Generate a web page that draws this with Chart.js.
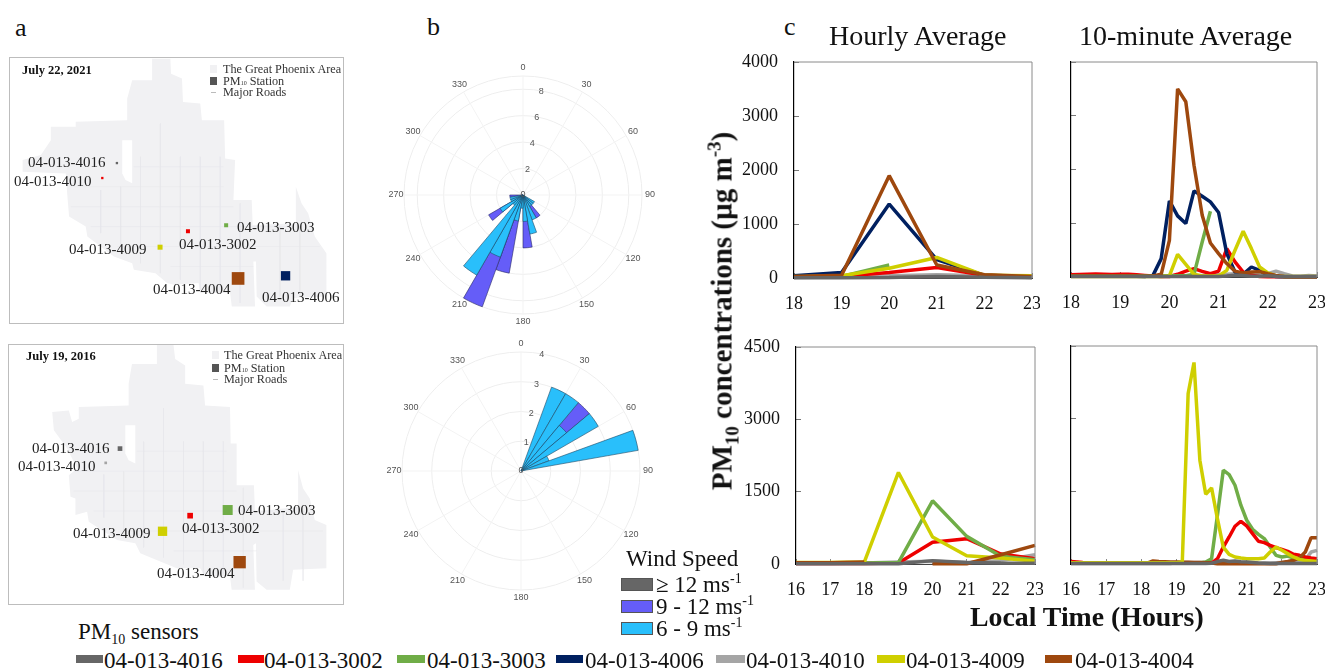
<!DOCTYPE html>
<html>
<head>
<meta charset="utf-8">
<title>PM10 dust events</title>
<script src="https://cdn.jsdelivr.net/npm/chart.js@4"></script>
<style>
html, body { margin: 0; background: #fff; overflow: hidden; }
#page { position: relative; width: 1325px; height: 669px; font-family: "Liberation Serif", serif; color: #111; }
#page canvas { position: absolute; }
.t { position: absolute; white-space: nowrap; transform: translateY(-50%); line-height: 1; }
.b { position: absolute; }
sub, sup { line-height: 0; }
</style>
</head>
<body>
<div id="page"></div>
<script>
// sensors
const sensorNames = ['04-013-4016', '04-013-3002', '04-013-3003', '04-013-4006', '04-013-4010', '04-013-4009', '04-013-4004']
const sensorColors = ['#666666', '#ee0000', '#70ad47', '#002060', '#a5a5a5', '#cfcf00', '#9e480e']

// c: hourly, July 22 2021
const hours2021 = [18, 19, 20, 21, 22, 23]
const h21_4016 = [5, 5, 10, 30, 15, 5]
const h21_4004 = [30, 50, 1895, 240, 60, 30]
const h21_4009 = [20, 40, 180, 380, 50, 40]
const h21_3003 = [30, 30, 240, null, null, null]
const h21_4006 = [40, 100, 1370, 340, 50, 30]
const h21_3002 = [20, 30, 100, 195, 50, 20]
const h21_4010 = [10, 20, 40, 60, 40, 10]

// c: 10-minute, July 22 2021 (18:00 - 23:00)
const m21_4016 = [8, 8, 8, 8, 8, 8, 8, 8, 8, 8, 8, 8, 8, 8, 8, 8, 8, 8, 8, 20, 35, 30, 15, 15, 25, 15, 8, 8, 8, 8, 8]
const m21_4004 = [20, 20, 20, 20, 20, 20, 20, 20, 20, 20, 20, 50, 683, 3500, 3260, 2080, 1150, 633, 435, 250, 110, 75, 93, 100, 62, 30, 10, 5, 5, 5, 5]
const m21_4009 = [10, 10, 10, 10, 10, 10, 10, 10, 10, 10, 10, 10, 20, 422, 236, 50, 20, 20, 20, 124, 497, 851, 528, 186, 75, 20, 10, 10, 10, 10, 10]
const m21_3003 = [25, 25, 25, 25, 25, 25, 25, 25, 25, 25, 25, 25, 25, 25, 25, 50, 652, 1224, null, null, null, null, null, null, null, null, null, null, null, null, null]
const m21_4006 = [15, 15, 15, 15, 15, 15, 15, 15, 15, 10, 30, 342, 1416, 1137, 994, 1602, 1503, 1397, 1199, 435, 93, 50, 186, 124, 31, 10, 5, 5, 5, 5, 5]
const m21_3002 = [40, 45, 50, 55, 50, 45, 50, 50, 40, 30, 20, 10, 10, 50, 110, 155, 105, 62, 110, 528, 280, 93, 31, 10, 5, 5, 5, 5, 5, 5, 5]
const m21_4010 = [15, 15, 15, 15, 15, 15, 15, 15, 15, 15, 15, 15, 15, 15, 15, 20, 30, 40, 40, 50, 60, 50, 40, 50, 60, 110, 60, 20, 15, 30, 20]

// c: hourly, July 19 2016
const hours2016 = [16, 17, 18, 19, 20, 21, 22, 23]
const h16_4016 = [5, 5, 5, 5, 70, 30, 20, 15]
const h16_4004 = [25, 25, 40, null, 5, 5, 193, 386]
const h16_4009 = [30, 30, 40, 1898, 559, 172, 124, 55]
const h16_3003 = [15, 15, 20, 30, 1311, 573, 159, 90]
const h16_3002 = [10, 10, 10, 20, 449, 525, 207, 110]
const h16_4010 = [10, 10, 20, 40, 55, 30, 70, 193]

// c: 10-minute, July 19 2016 (16:00 - 23:00)
const m16_4016 = [10, 10, 10, 10, 10, 10, 10, 10, 10, 10, 10, 10, 10, 10, 10, 10, 10, 10, 10, 10, 10, 10, 10, 10, 15, 50, 76, 50, 60, 45, 40, 30, 20, 15, 10, 10, 10, 10, 10, 10, 10, 10, 10]
const m16_4004 = [20, 20, 20, 20, 20, 20, 20, 20, 20, 20, 20, 20, 20, 20, 62, 50, 45, 40, 40, 35, 35, 30, 30, 25, 20, 5, 5, 5, 5, 5, 5, 5, 5, 5, 5, 5, 30, 50, 76, 124, 248, 544, 544]
const m16_4009 = [25, 25, 25, 25, 25, 25, 25, 25, 25, 25, 25, 25, 25, 25, 25, 25, 25, 25, 25, 40, 3520, 4160, 2143, 1440, 1570, 937, 350, 200, 145, 124, 110, 110, 110, 124, 248, 350, 282, 214, 145, 96, 70, 60, 50]
const m16_3003 = [20, 20, 20, 20, 20, 20, 20, 20, 20, 20, 20, 20, 20, 20, 20, 20, 20, 20, 20, 20, 20, 20, 20, 40, 110, 1006, 1936, 1846, 1626, 1213, 903, 716, 613, 524, 351, 179, 145, 165, 124, 110, 96, 76, 62]
const m16_3002 = [50, 40, 30, 25, 20, 20, 20, 20, 20, 20, 20, 20, 20, 20, 20, 20, 20, 20, 20, 20, 20, 20, 20, 20, 20, 110, 350, 558, 779, 882, 785, 627, 469, 441, 386, 338, 303, 262, 200, 179, 145, 124, 110]
const m16_4010 = [10, 10, 10, 10, 10, 10, 10, 10, 10, 10, 10, 10, 10, 10, 10, 10, 10, 10, 30, 30, 30, 30, 30, 30, 30, 35, 40, 35, 30, 30, 25, 20, 20, 20, 20, 25, 30, 35, 40, 50, 80, 248, 282]

// b: wind rose, counts per 10 degree bin, value is the top of each band
const roseAngles = [0, 10, 20, 30, 40, 50, 60, 70, 80, 90, 100, 110, 120, 130, 140, 150, 160, 170, 180, 190, 200, 210, 220, 230, 240, 250, 260, 270, 280, 290, 300, 310, 320, 330, 340, 350]
const rose21_6to9 = [0, 0, 0, 0, 0, 0, 0, 0, 0, 0, 0, 0, 1, 1, 1, 2, 3, 2, 1, 2, 5, 7, 1, 2, 1, 1, 0, 0, 0, 0, 0, 0, 0, 0, 0, 0]
const rose21_9to12 = [0, 0, 0, 0, 0, 0, 0, 0, 0, 0, 0, 0, 0, 0, 2, 0, 0, 4, 0, 6, 9, 0, 0, 3, 0, 0, 1, 0, 0, 0, 0, 0, 0, 0, 0, 0]
const rose16_6to9 = [0, 0, 3, 3, 2, 3, 1, 4, 0, 0, 0, 0, 0, 0, 0, 0, 0, 0, 0, 0, 0, 0, 0, 0, 0, 0, 0, 0, 0, 0, 0, 0, 0, 0, 0, 0]
const rose16_9to12 = [0, 0, 0, 0, 3, 0, 0, 0, 0, 0, 0, 0, 0, 0, 0, 0, 0, 0, 0, 0, 0, 0, 0, 0, 0, 0, 0, 0, 0, 0, 0, 0, 0, 0, 0, 0]

// a: map outlines and stations, in map units
const outline2021 = [[455, 55], [510, 55], [512, 100], [545, 115], [548, 185], [600, 190], [605, 240], [672, 240], [675, 355], [705, 360], [700, 480], [755, 480], [758, 555], [888, 550], [888, 440], [905, 490], [925, 520], [945, 590], [980, 640], [980, 770], [880, 775], [870, 800], [800, 800], [770, 770], [768, 665], [760, 665], [765, 800], [695, 800], [690, 760], [600, 760], [595, 730], [520, 735], [500, 730], [465, 700], [400, 690], [395, 670], [340, 650], [260, 590], [255, 560], [205, 530], [200, 470], [195, 400], [65, 395], [65, 360], [120, 345], [150, 300], [150, 260], [225, 260], [225, 245], [380, 240], [380, 175], [395, 120], [455, 120], [455, 55]]
const hole2021 = [[365, 300], [395, 300], [395, 430], [375, 420], [365, 400], [365, 300]]
const outline2016 = [[470, 28], [520, 28], [525, 70], [555, 90], [555, 145], [610, 150], [615, 210], [690, 215], [692, 325], [710, 325], [710, 450], [762, 450], [765, 530], [895, 515], [895, 405], [910, 460], [930, 490], [945, 555], [980, 570], [980, 700], [880, 705], [870, 765], [800, 765], [770, 740], [768, 625], [760, 630], [765, 765], [695, 765], [690, 725], [615, 725], [600, 700], [530, 700], [480, 680], [420, 655], [405, 625], [350, 615], [265, 560], [260, 530], [225, 540], [225, 490], [210, 485], [205, 420], [230, 400], [200, 340], [160, 285], [155, 230], [205, 225], [215, 260], [235, 250], [235, 215], [385, 210], [385, 145], [395, 85], [470, 85], [470, 28]]
const hole2016 = [[375, 270], [405, 270], [405, 385], [385, 375], [375, 355], [375, 270]]
const roadRows = [[380, 400, 670], [440, 210, 670], [500, 210, 700], [560, 270, 880], [620, 350, 960], [680, 510, 760]]
const roadCols = [[300, 450, 580], [360, 440, 640], [420, 350, 670], [480, 250, 700], [540, 350, 720], [600, 350, 750], [660, 350, 750], [720, 490, 790], [840, 560, 770], [900, 560, 770]]

const stations2021X = [349, 563, 678, 857, 305, 479, 714]
const stations2021Y = [369, 574, 556, 708, 414, 622, 716]
const stations2021Size = [7, 12, 12, 28, 7, 15, 38]
const stations2021Color = ['#666666', '#ee0000', '#70ad47', '#002060', '#ee0000', '#cfcf00', '#9e480e']
const stations2016X = [359, 570, 683, null, 316, 487, 719]
const stations2016Y = [340, 542, 525, null, 383, 589, 682]
const stations2016Size = [14, 17, 30, 0, 8, 28, 37]

const page = document.getElementById('page')

function text(html, x, y, css) {
    const el = document.createElement('div')
    el.className = 't'
    el.innerHTML = html
    el.style.cssText = 'left:' + x + 'px;top:' + y + 'px;' + (css || '')
    page.appendChild(el)
    return el
}

function box(x, y, w, h, css) {
    const el = document.createElement('div')
    el.className = 'b'
    el.style.cssText = 'left:' + x + 'px;top:' + y + 'px;width:' + w + 'px;height:' + h + 'px;' + (css || '')
    page.appendChild(el)
}

function canvas(x, y, w, h) {
    const c = document.createElement('canvas')
    c.width = w
    c.height = h
    c.style.cssText = 'left:' + x + 'px;top:' + y + 'px;width:' + w + 'px;height:' + h + 'px;'
    page.appendChild(c)
    return c
}

// ---- a: maps
function roads(dx, dy) {
    const pts = []
    roadRows.forEach(r => pts.push({x: r[1] + dx, y: r[0] + dy}, {x: r[2] + dx, y: r[0] + dy}, {x: NaN, y: NaN}))
    roadCols.forEach(c => pts.push({x: c[0] + dx, y: c[1] + dy}, {x: c[0] + dx, y: c[2] + dy}, {x: NaN, y: NaN}))
    return pts
}

const toXY = list => list.map(p => ({x: p[0], y: p[1]}))

// fills the datasets flagged polygon from their points, below everything else
const polygonFill = {
    id: 'polygonFill',
    beforeDatasetsDraw(chart) {
        const ctx = chart.ctx
        chart.data.datasets.forEach((ds, i) => {
            if (!ds.polygon) return
            ctx.save()
            ctx.fillStyle = ds.polygon
            ctx.beginPath()
            chart.getDatasetMeta(i).data.forEach((p, k) => (k ? ctx.lineTo(p.x, p.y) : ctx.moveTo(p.x, p.y)))
            ctx.closePath()
            ctx.fill()
            ctx.restore()
        })
    },
}

function mapChart(left, top, w, h, range, outline, hole, stX, stY, stSize, stColor, dx, dy) {
    box(left - 1, top - 1, w, h, 'border:1px solid #bdbdbd;')
    new Chart(canvas(left, top, w, h), {
        type: 'scatter',
        data: {
            datasets: [
                {
                    data: stX.map((x, i) => ({x: x, y: stY[i]})),
                    pointStyle: 'rect',
                    pointRadius: stSize.map(s => s / 3 / Math.SQRT2),
                    pointBackgroundColor: stColor,
                    pointBorderWidth: 0,
                },
                {data: roads(dx, dy), showLine: true, pointRadius: 0, borderWidth: 0.5, borderColor: '#e6e6ea'},
                {data: toXY(outline), pointRadius: 0, polygon: '#f1f1f3'},
                {data: toXY(hole), pointRadius: 0, polygon: '#ffffff'},
            ],
        },
        options: {
            responsive: false,
            animation: false,
            layout: {autoPadding: false},
            plugins: {legend: {display: false}, tooltip: {enabled: false}},
            scales: {
                x: {display: false, min: range[0], max: range[1]},
                y: {display: false, min: range[2], max: range[3], reverse: true},
            },
        },
        plugins: [polygonFill],
    })
}

mapChart(10, 58, 333, 265, [27, 1030, 53, 850], outline2021, hole2021,
    stations2021X, stations2021Y, stations2021Size, stations2021Color, 0, 0)
mapChart(9, 345, 334, 259, [25, 1030, 28, 808], outline2016, hole2016,
    stations2016X, stations2016Y, stations2016Size, ['#666666', '#ee0000', '#70ad47', '#002060', '#a5a5a5', '#cfcf00', '#9e480e'], 10, -32)

text('<b>July 22, 2021</b>', 22, 70, 'font-size:12.5px;')
text('<b>July 19, 2016</b>', 26, 356, 'font-size:12.5px;')

function mapLegend(sx, tx, y1, y2, y3) {
    box(sx, y1 - 4, 7, 8, 'background:#f1f1f3;')
    box(sx, y2 - 4, 7, 8, 'background:#555;')
    box(sx + 1, y3, 5, 1, 'background:#bbb;')
    text('The Great Phoenix Area', tx, y1, 'font-size:12.2px;color:#333;')
    text('PM<span style="font-size:6px;">10</span> Station', tx, y2, 'font-size:12.2px;color:#333;')
    text('Major Roads', tx, y3, 'font-size:12.2px;color:#333;')
}
mapLegend(210, 223, 69, 81, 92)
mapLegend(212, 224, 355, 367.5, 379)

const labels2021 = [[0, 28, 162], [4, 14, 181], [2, 237, 227], [1, 179, 244], [5, 69, 249], [6, 153, 289], [3, 262, 297]]
const labels2016 = [[0, 32, 448], [4, 18, 466], [2, 238, 510], [1, 182, 528], [5, 73, 533], [6, 157, 573]]
labels2021.concat(labels2016).forEach(l => text(sensorNames[l[0]], l[1], l[2], 'font-size:15px;color:#222;'))

// ---- b: wind roses
const roseLabels = {
    id: 'roseLabels',
    afterDraw(chart, args, opts) {
        const r = chart.scales.r
        const ctx = chart.ctx
        ctx.save()
        ctx.font = opts.size + 'px "Liberation Sans"'
        ctx.fillStyle = '#555'
        ctx.textAlign = 'center'
        ctx.textBaseline = 'middle'
        roseAngles.forEach((a, i) => {
            if (a % 30 !== 0) return
            const p = r.getPointPosition(i, r.drawingArea + 8)
            ctx.fillText(String(a), p.x, p.y)
        })
        r.ticks.forEach(t => {
            if (t.value % opts.step !== 0 || t.value === 0) return
            const p = r.getPointPosition(1, r.getDistanceFromCenterForValue(t.value))
            ctx.fillText(String(t.value), p.x, p.y + 1)
        })
        ctx.fillText('0', r.xCenter, r.yCenter)
        ctx.restore()
    },
}

function roseChart(cx, cy, top6to9, top9to12, max, step) {
    const size = 300
    new Chart(canvas(cx - size / 2, cy - size / 2, size, size), {
        type: 'polarArea',
        data: {
            labels: roseAngles,
            datasets: [
                {label: '6 - 9 ms-1', data: top6to9, backgroundColor: '#29bffb', borderColor: '#1c4a66', borderWidth: 0.6},
                {label: '9 - 12 ms-1', data: top9to12, backgroundColor: '#655df8', borderColor: '#2a2a66', borderWidth: 0.6},
            ],
        },
        options: {
            responsive: false,
            animation: false,
            layout: {padding: 31},
            plugins: {legend: {display: false}, tooltip: {enabled: false}, roseLabels: {size: 9, step: step}},
            scales: {
                r: {
                    min: 0,
                    max: max,
                    ticks: {display: false, stepSize: step},
                    pointLabels: {display: false},
                    grid: {circular: true, color: '#eeeeee', lineWidth: 1},
                    angleLines: {
                        display: true,
                        lineWidth: 1,
                        color: c => (c.index % 3 === 0 ? '#f3f3f3' : 'rgba(0,0,0,0)'),
                    },
                },
            },
        },
        plugins: [roseLabels],
    })
}

roseChart(523, 195, rose21_6to9, rose21_9to12, 9, 2)
roseChart(521, 471, rose16_6to9, rose16_9to12, 4, 1)

// ---- c: time series
const panelFrame = {
    id: 'panelFrame',
    afterDraw(chart) {
        const a = chart.chartArea
        const ctx = chart.ctx
        ctx.save()
        ctx.strokeStyle = '#8a8a8a'
        ctx.lineWidth = 1
        ctx.beginPath()
        ctx.moveTo(a.left, a.top)
        ctx.lineTo(a.right, a.top)
        ctx.lineTo(a.right, a.bottom)
        ctx.stroke()
        ctx.restore()
    },
}

function linePanel(left, right, top, bottom, xMin, xMax, yMax, yStep, yLabels, series) {
    const marginL = 70, marginR = 8, marginT = 12, marginB = 40
    new Chart(canvas(left - marginL, top - marginT, right - left + marginL + marginR, bottom - top + marginT + marginB), {
        type: 'line',
        data: {
            datasets: series.map(s => ({
                label: sensorNames[s.i],
                data: s.x.map((x, k) => ({x: x, y: s.y[k]})),
                borderColor: sensorColors[s.i],
                borderWidth: 3.5,
                borderJoinStyle: 'bevel',
                pointRadius: 0,
                tension: 0,
                clip: false,
            })),
        },
        options: {
            responsive: false,
            animation: false,
            layout: {autoPadding: false, padding: {top: marginT, right: marginR, left: 0, bottom: 0}},
            plugins: {legend: {display: false}, tooltip: {enabled: false}},
            scales: {
                x: {
                    type: 'linear',
                    min: xMin,
                    max: xMax,
                    afterFit: s => { s.height = marginB; s.paddingLeft = 0; s.paddingRight = 0 },
                    border: {color: '#444', width: 1},
                    grid: {display: true, drawOnChartArea: false, tickLength: -5, tickColor: '#888'},
                    ticks: {stepSize: 1, padding: 20, maxRotation: 0, autoSkip: false, color: '#111', font: {family: '"Liberation Serif"', size: 18}},
                },
                y: {
                    min: 0,
                    max: yMax,
                    afterFit: s => { s.width = marginL; s.paddingTop = 0; s.paddingBottom = 0 },
                    border: {color: '#000', width: 1.2},
                    grid: {display: true, drawOnChartArea: false, tickLength: -5, tickColor: '#777'},
                    ticks: {stepSize: yStep, padding: 21, display: yLabels, callback: v => String(v), color: '#111', font: {family: '"Liberation Serif"', size: 18}},
                },
            },
        },
        plugins: [panelFrame],
    })
}

const tenMin21 = m21_4016.map((v, i) => 18 + i / 6)
const tenMin16 = m16_4016.map((v, i) => 16 + i / 6)

linePanel(794, 1032, 62, 278, 18, 23, 4000, 1000, true, [
    {i: 0, x: hours2021, y: h21_4016},
    {i: 6, x: hours2021, y: h21_4004},
    {i: 5, x: hours2021, y: h21_4009},
    {i: 2, x: hours2021, y: h21_3003},
    {i: 3, x: hours2021, y: h21_4006},
    {i: 1, x: hours2021, y: h21_3002},
    {i: 4, x: hours2021, y: h21_4010},
])
linePanel(1071, 1317, 62, 277, 18, 23, 4000, 1000, false, [
    {i: 0, x: tenMin21, y: m21_4016},
    {i: 6, x: tenMin21, y: m21_4004},
    {i: 5, x: tenMin21, y: m21_4009},
    {i: 2, x: tenMin21, y: m21_3003},
    {i: 3, x: tenMin21, y: m21_4006},
    {i: 1, x: tenMin21, y: m21_3002},
    {i: 4, x: tenMin21, y: m21_4010},
])
linePanel(796, 1035, 347, 564, 16, 23, 4500, 1500, true, [
    {i: 0, x: hours2016, y: h16_4016},
    {i: 6, x: hours2016, y: h16_4004},
    {i: 5, x: hours2016, y: h16_4009},
    {i: 2, x: hours2016, y: h16_3003},
    {i: 1, x: hours2016, y: h16_3002},
    {i: 4, x: hours2016, y: h16_4010},
])
linePanel(1071, 1317, 346, 564, 16, 23, 4500, 1500, false, [
    {i: 0, x: tenMin16, y: m16_4016},
    {i: 5, x: tenMin16, y: m16_4009},
    {i: 6, x: tenMin16, y: m16_4004},
    {i: 1, x: tenMin16, y: m16_3002},
    {i: 2, x: tenMin16, y: m16_3003},
    {i: 4, x: tenMin16, y: m16_4010},
])

// ---- titles and legends
text('a', 15, 28, 'font-size:26px;')
text('b', 427, 27, 'font-size:26px;')
text('c', 784, 27, 'font-size:26px;')
text('Hourly Average', 829, 36, 'font-size:28px;')
text('10-minute Average', 1079, 36, 'font-size:28px;')
text('Local Time (Hours)', 970, 617, 'font-size:27.8px;font-weight:bold;')

const yTitle = text('PM<sub style="font-size:19px;">10</sub> concentrations (µg m<sup style="font-size:19px;">-3</sup>)', 722, 311, 'font-size:29px;font-weight:bold;')
yTitle.style.transform = 'translate(-50%,-50%) rotate(-90deg)'

text('Wind Speed', 626, 558, 'font-size:23px;')
const windText = ['≥ 12 ms<sup style="font-size:14px;">-1</sup>', '9 - 12 ms<sup style="font-size:14px;">-1</sup>', '6 - 9 ms<sup style="font-size:14px;">-1</sup>']
const windColors = ['#666666', '#655df8', '#29bffb']
windText.forEach((t, i) => {
    box(621, 578 + i * 22, 30, 11, 'border:1px solid #555;background:' + windColors[i] + ';')
    text(t, 656, 584 + i * 22, 'font-size:23px;')
})

text('PM<sub style="font-size:14px;">10</sub> sensors', 78, 631, 'font-size:23px;')
const legendSwatch = [[76, 27], [238, 26], [397, 28], [556, 27], [716, 29], [877, 28], [1045, 27]]
const legendText = [104, 264, 427, 585, 746, 906, 1075]
sensorNames.forEach((name, i) => {
    box(legendSwatch[i][0], 655, legendSwatch[i][1], 8, 'background:' + sensorColors[i] + ';')
    text(name, legendText[i], 660, 'font-size:23px;')
})
</script>
</body>
</html>
